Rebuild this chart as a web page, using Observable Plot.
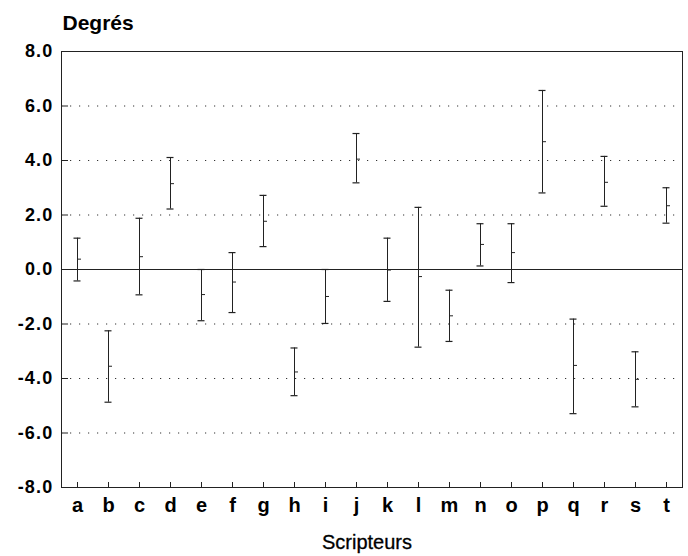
<!DOCTYPE html>
<html>
<head>
<meta charset="utf-8">
<script src="https://cdn.jsdelivr.net/npm/d3@7"></script>
<script src="https://cdn.jsdelivr.net/npm/@observablehq/plot@0.6"></script>
<style>
  html, body { margin: 0; padding: 0; background: #fff; }
  #chart svg { display: block; }
</style>
</head>
<body>
<div id="chart"></div>
<script>
const categories = ["a","b","c","d","e","f","g","h","i","j","k","l","m","n","o","p","q","r","s","t"];
const lows  = [-0.42, -4.87, -0.93, 2.22, -1.88, -1.58, 0.84, -4.63, -1.98, 3.18, -1.17, -2.85, -2.64, 0.13, -0.48, 2.81, -5.29, 2.32, -5.04, 1.70];
const means = [ 0.38, -3.55,  0.47, 3.15, -0.92, -0.46, 1.77, -3.76, -0.99, 4.05, -0.02, -0.26, -1.70, 0.92,  0.62, 4.69, -3.52, 3.20, -4.03, 2.34];
const highs = [ 1.15, -2.25,  1.88, 4.11,  0.00,  0.62, 2.72, -2.88,  0.00, 4.99,  1.15,  2.28, -0.76, 1.68,  1.68, 6.57, -1.82, 4.15, -3.02, 3.00];
const yTicks = [-8, -6, -4, -2, 0, 2, 4, 6, 8];
const gridValues = [-6, -4, -2, 2, 4, 6];

const data = categories.map((c, i) => ({name: c, lo: lows[i], mean: means[i], hi: highs[i]}));

const W = 688, H = 556;
const mL = 61, mR = 6, mT = 51, mB = 69;
const plotW = W - mL - mR, plotH = H - mT - mB;
const ink = "#222";

const chart = Plot.plot({
  width: W,
  height: H,
  marginLeft: mL,
  marginRight: mR,
  marginTop: mT,
  marginBottom: mB,
  style: {fontFamily: "'Liberation Sans', Arial, sans-serif", background: "#fff", color: ink},
  x: {type: "point", domain: categories, padding: 0.5, label: null},
  y: {domain: [-8, 8], label: null},
  marks: [
    // dotted grid
    Plot.ruleY(gridValues, {y: d => d, stroke: "#333", strokeWidth: 1.2, strokeDasharray: "1.2,7.8"}),
    // zero line
    Plot.ruleY([0], {stroke: ink, strokeWidth: 1}),
    // inward ticks on y
    Plot.tickY(yTicks, {y: d => d, stroke: ink, strokeWidth: 1, insetRight: plotW - 7}),
    // inward ticks on x
    Plot.tickX(categories, {x: d => d, stroke: ink, strokeWidth: 1, insetTop: plotH - 5}),
    // error bars
    Plot.ruleX(data, {x: "name", y1: "lo", y2: "hi", stroke: ink, strokeWidth: 1}),
    Plot.ruleY(data, {x1: "name", x2: "name", y: "hi", stroke: ink, strokeWidth: 1.2, insetLeft: -3.5, insetRight: -3.5}),
    Plot.ruleY(data, {x1: "name", x2: "name", y: "lo", stroke: ink, strokeWidth: 1.2, insetLeft: -3.5, insetRight: -3.5}),
    Plot.ruleY(data, {x1: "name", x2: "name", y: "mean", stroke: ink, strokeWidth: 1, insetLeft: 0, insetRight: -4}),
    Plot.frame({stroke: ink, strokeWidth: 1}),
    // axes
    Plot.axisY(yTicks, {
      tickSize: 0, tickPadding: 8, tickFormat: d => d.toFixed(1),
      fontSize: 18, fontWeight: "bold", fill: "#000", label: null
    }),
    Plot.axisX(categories, {
      tickSize: 0, tickPadding: 10,
      fontSize: 20, fontWeight: "bold", fill: "#000", label: null
    }),
    // titles
    Plot.text(["Degrés"], {frameAnchor: "top-left", text: d => d, textAnchor: "start", lineAnchor: "bottom", dx: 1, dy: -22, fontSize: 21, fontWeight: "bold", fill: "#000"}),
    Plot.text(["Scripteurs"], {frameAnchor: "bottom", text: d => d, lineAnchor: "bottom", dx: -5, dy: 61, fontSize: 20, fill: "#000", stroke: "#000", strokeWidth: 0.3})
  ]
});

// slightly widen tick labels to match the reference letterforms
d3.select(chart).selectAll('g[aria-label="y-axis tick label"] text').attr("letter-spacing", "1.2px");

document.getElementById("chart").appendChild(chart);
</script>
</body>
</html>
